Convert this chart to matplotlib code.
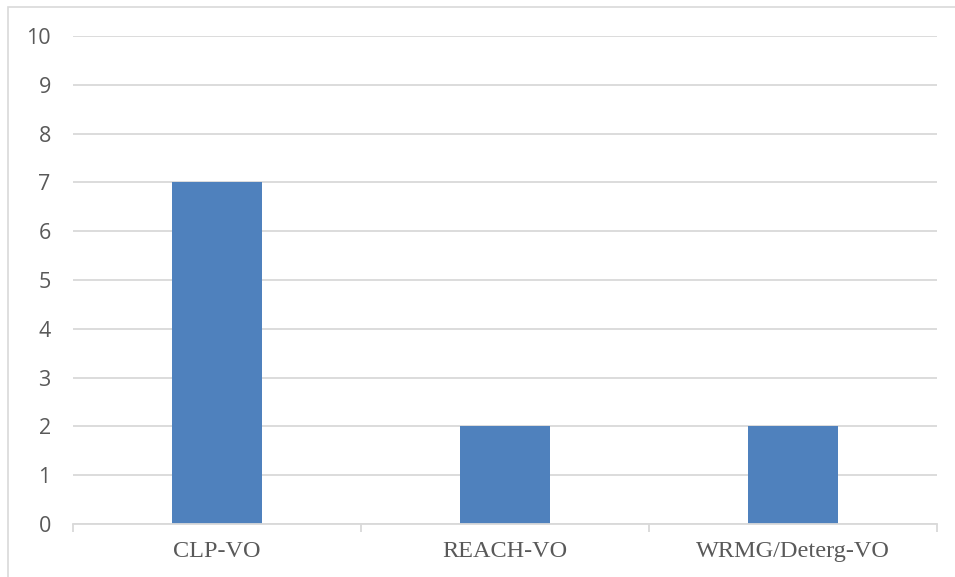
import matplotlib
matplotlib.use("Agg")
import matplotlib.pyplot as plt
from matplotlib.patches import Rectangle

categories = ["CLP-VO", "REACH-VO", "WRMG/Deterg-VO"]
values = [7, 2, 2]
y_ticks = list(range(0, 11))

W, H = 955, 577
fig = plt.figure(figsize=(W / 100, H / 100), dpi=100)

# outer chart frame
fig.patches.append(Rectangle((8 / W, -0.1), 1.2, 1 - 7 / H + 0.1, transform=fig.transFigure,
                             fill=False, edgecolor="#d9d9d9", linewidth=1.2))

ax = fig.add_axes([73 / W, 1 - 524 / H, (937 - 73) / W, (524 - 36) / H])
x = range(len(categories))
ax.bar(x, values, width=0.3125, color="#4f81bd", zorder=3)

ax.set_xlim(-0.5, len(categories) - 0.5)
ax.set_ylim(0, 10)
ax.set_yticks(y_ticks)
ax.set_yticklabels([str(t) for t in y_ticks], fontfamily="Open Sans", fontsize=15.5, color="#595959")
ax.yaxis.grid(True, color="#d9d9d9", linewidth=1.3, zorder=0)
ax.tick_params(axis="y", length=0, pad=16)

ax.set_xticks([i - 0.5 for i in range(len(categories) + 1)], minor=False)
ax.set_xticklabels([""] * (len(categories) + 1))
ax.tick_params(axis="x", which="major", length=6, color="#d9d9d9", width=1.3, direction="out")
ax.set_xticks(list(x), minor=True)
ax.set_xticklabels(categories, minor=True, fontfamily="Liberation Serif", fontsize=17.5, color="#595959")
ax.tick_params(axis="x", which="minor", length=0, pad=12)

for side in ["top", "right", "left"]:
    ax.spines[side].set_visible(False)
ax.spines["bottom"].set_color("#d9d9d9")
ax.spines["bottom"].set_linewidth(1.3)
ax.spines["bottom"].set_zorder(4)

fig.savefig("out.png", dpi=100)
